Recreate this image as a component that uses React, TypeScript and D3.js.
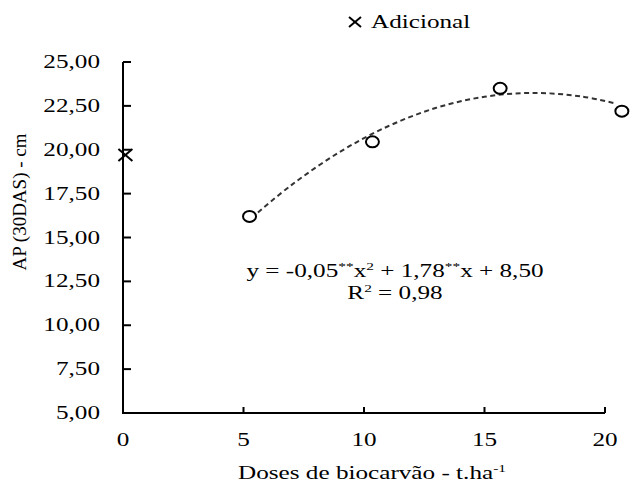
import React from "react";
import * as d3 from "d3";

const xTicks = [0, 5, 10, 15, 20];
const yTicks = [5, 7.5, 10, 12.5, 15, 17.5, 20, 22.5, 25];
const doseX = [5.25, 10.35, 15.65, 20.7];
const heightY = [16.2, 20.45, 23.5, 22.2];
const adicionalX = [0.1];
const adicionalY = [19.7];
const trendX = [5.6, 7, 9, 11, 13, 15, 17, 19, 20.4];
const trendY = [16.43, 18.0, 19.88, 21.34, 22.39, 23.02, 23.24, 23.04, 22.65];

const W = 636;
const H = 483;
const SX = 1.4;
const FONT = "'Liberation Serif', 'Times New Roman', serif";

export default function App() {
  const x = d3.scaleLinear().domain([0, 20]).range([123, 605]);
  const y = d3.scaleLinear().domain([5, 25]).range([413, 62]);
  const fmt = (v: number) => v.toFixed(2).replace(".", ",");
  const line = d3
    .line<number>()
    .x((_, i) => x(trendX[i]))
    .y((d) => y(d))
    .curve(d3.curveCatmullRom);
  const trendPath = line(trendY) || "";

  const txt = (
    tx: number,
    ty: number,
    anchor: "start" | "middle" | "end",
    size: number,
    content: React.ReactNode,
    key?: string | number
  ) => (
    <text
      key={key}
      transform={`translate(${tx},${ty}) scale(${SX},1)`}
      textAnchor={anchor}
      fontSize={size}
      fontFamily={FONT}
      fill="#000"
    >
      {content}
    </text>
  );

  const cross = (cx: number, cy: number, hw: number, hh: number, key?: string | number) => (
    <g key={key} stroke="#000" strokeWidth={2}>
      <line x1={cx - hw} y1={cy - hh} x2={cx + hw} y2={cy + hh} />
      <line x1={cx - hw} y1={cy + hh} x2={cx + hw} y2={cy - hh} />
    </g>
  );

  return (
    <svg
      width={W}
      height={H}
      style={{ position: "absolute", left: 0, top: 0, background: "#fff" }}
    >
      <rect x={0} y={0} width={W} height={H} fill="#fff" />
      {/* legend */}
      {cross(355, 22, 6, 5)}
      {txt(371, 28, "start", 18, "Adicional")}

      {/* axes */}
      <line x1={x(0)} y1={y(25)} x2={x(0)} y2={y(5)} stroke="#000" strokeWidth={2} />
      <line x1={x(0) - 1} y1={y(5)} x2={x(20)} y2={y(5)} stroke="#000" strokeWidth={2} />
      {yTicks.map((t) => (
        <g key={"yt" + t}>
          <line x1={x(0)} x2={x(0) + 8} y1={y(t)} y2={y(t)} stroke="#000" strokeWidth={2} />
          {txt(100, y(t) + 6, "end", 18, fmt(t))}
        </g>
      ))}
      {xTicks.map((t) => (
        <g key={"xt" + t}>
          <line x1={x(t)} x2={x(t)} y1={y(5)} y2={y(5) - 6} stroke="#000" strokeWidth={2} />
          {txt(x(t), 446, "middle", 18, String(t))}
        </g>
      ))}

      {/* axis titles */}
      {txt(
        372,
        479,
        "middle",
        18,
        <>
          Doses de biocarvão - t.ha<tspan dy={-7} fontSize={11}>-1</tspan>
        </>
      )}
      <text
        transform={`translate(26,202) rotate(-90)`}
        textAnchor="middle"
        fontSize={19}
        fontFamily={FONT}
        fill="#000"
      >
        AP (30DAS) - cm
      </text>

      {/* trend */}
      <path d={trendPath} fill="none" stroke="#333" strokeWidth={2} strokeDasharray="5,3.5" />

      {/* points */}
      {doseX.map((d, i) => (
        <ellipse
          key={"p" + i}
          cx={x(d)}
          cy={y(heightY[i])}
          rx={6.5}
          ry={5.5}
          fill="#fff"
          stroke="#000"
          strokeWidth={2}
        />
      ))}
      {adicionalX.map((d, i) => cross(x(d), y(adicionalY[i]), 7, 6, "a" + i))}

      {/* equation */}
      {txt(
        395,
        277,
        "middle",
        18,
        <>
          y = -0,05<tspan dy={-7} fontSize={11}>**</tspan>
          <tspan dy={7}>x</tspan>
          <tspan dy={-7} fontSize={11}>2</tspan>
          <tspan dy={7}> + 1,78</tspan>
          <tspan dy={-7} fontSize={11}>**</tspan>
          <tspan dy={7}>x + 8,50</tspan>
        </>
      )}
      {txt(
        395,
        299,
        "middle",
        18,
        <>
          R<tspan dy={-7} fontSize={11}>2</tspan>
          <tspan dy={7}> = 0,98</tspan>
        </>
      )}
    </svg>
  );
}
